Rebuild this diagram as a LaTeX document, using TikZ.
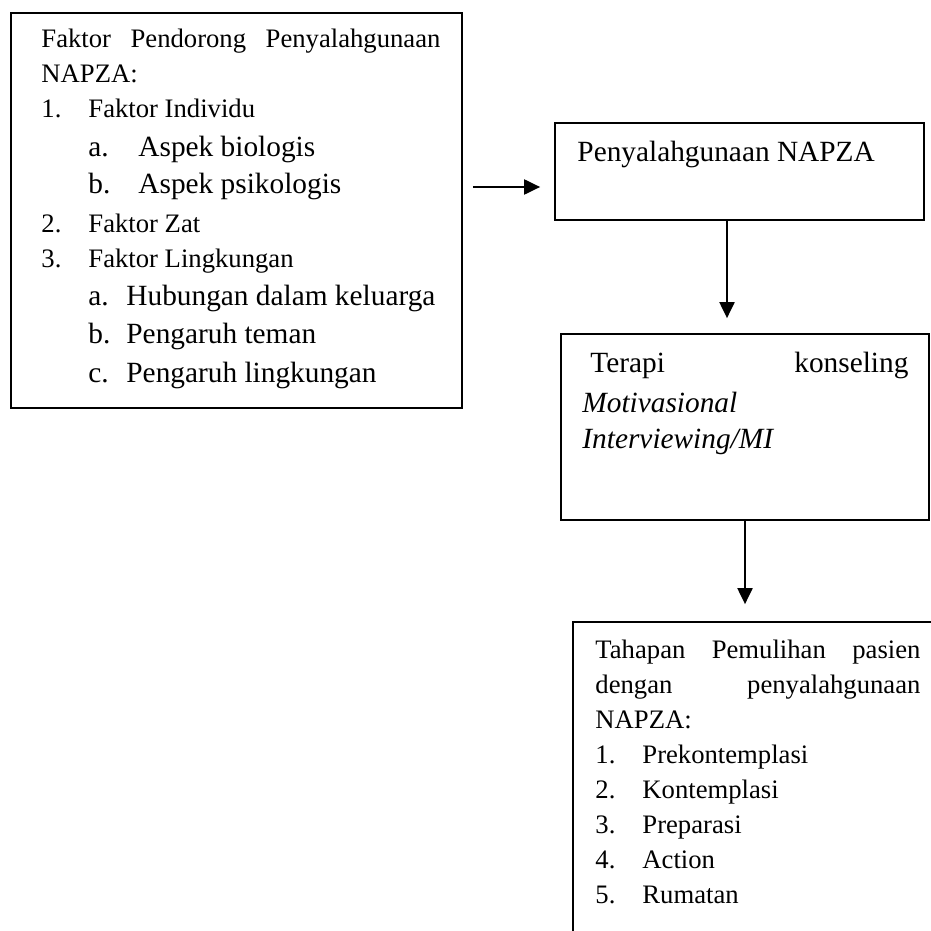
\documentclass[tikz,border=0pt]{standalone}
\usepackage{fontspec}
\setmainfont{Liberation Serif}
\usetikzlibrary{arrows.meta, fit}

\begin{document}
\begin{tikzpicture}[x=0.45pt, y=-0.45pt,
    panel/.style={draw, line width=0.8pt, inner sep=0pt},
    txt/.style={inner sep=0pt, anchor=base west, font=\fontsize{12}{14}\selectfont},
    txtbig/.style={txt, font=\fontsize{13.2}{16}\selectfont},
    flow/.style={-{Triangle[length=7.2pt,width=6.8pt]}, line width=0.8pt}]
\useasboundingbox (0,0) rectangle (931,931);
\clip (0,0) rectangle (931,931);

% boxes
\node[panel, fit={(11,13) (462,408)}] (faktor) {};
\node[panel, fit={(555,123) (924,220)}] (penyalah) {};
\node[panel, fit={(561,334) (929,520)}] (terapi) {};
\node[panel, fit={(573,622) (960,960)}] (tahapan) {};

% faktor pendorong
\node[txt] (fhead) at (41,48) {\makebox[179.55pt][s]{Faktor Pendorong Penyalahgunaan}};
\node[txt] (fnapza) at (41,83) {NAPZA:};
\foreach \y/\n/\t [count=\i] in {118/1./Faktor Individu, 232/2./Faktor Zat, 267/3./Faktor Lingkungan}
    \node[txt] (fitem\i) at (41,\y) {\makebox[21.15pt][l]{\n}\t};
\foreach \y/\n/\t [count=\i] in {157/a./Aspek biologis, 194/b./Aspek psikologis}
    \node[txtbig] (findv\i) at (88,\y) {\makebox[22.5pt][l]{\n}\t};
\foreach \y/\n/\t [count=\i] in {305/a./Hubungan dalam keluarga, 343/b./Pengaruh teman, 382/c./Pengaruh lingkungan}
    \node[txtbig] (fling\i) at (88,\y) {\makebox[17.1pt][l]{\n}\t};

% penyalahgunaan
\node[txtbig] (ptext) at (577,162) {Penyalahgunaan NAPZA};

% terapi
\node[txtbig] (tline1) at (582,372) {\makebox[146.7pt]{\hspace{3.6pt}Terapi\hfill konseling}};
\node[txtbig] (tline2) at (582,412) {\itshape Motivasional};
\node[txtbig] (tline3) at (582,448) {\itshape Interviewing/MI};

% tahapan pemulihan
\node[txt] (hline1) at (595,658) {\makebox[146.25pt][s]{Tahapan Pemulihan pasien}};
\node[txt] (hline2) at (595,693) {\makebox[146.25pt][s]{dengan penyalahgunaan}};
\node[txt] (hline3) at (595,728) {NAPZA:};
\foreach \n/\t [count=\i] in {1./Prekontemplasi, 2./Kontemplasi, 3./Preparasi, 4./Action, 5./Rumatan}
    \node[txt] (hitem\i) at (595,728+35*\i) {\makebox[21.15pt][l]{\n}\t};

% arrows
\coordinate (rowa) at (0,187);
\coordinate (colb) at (727,0);
\draw[flow, shorten <=4.5pt, shorten >=6.3pt] (faktor.east |- rowa) -- (penyalah.west |- rowa);
\draw[flow, shorten >=6.75pt] (penyalah.south -| colb) -- (terapi.north -| colb);
\draw[flow, shorten >=7.65pt] (terapi.south) -- (terapi.south |- tahapan.north);
\end{tikzpicture}
\end{document}
